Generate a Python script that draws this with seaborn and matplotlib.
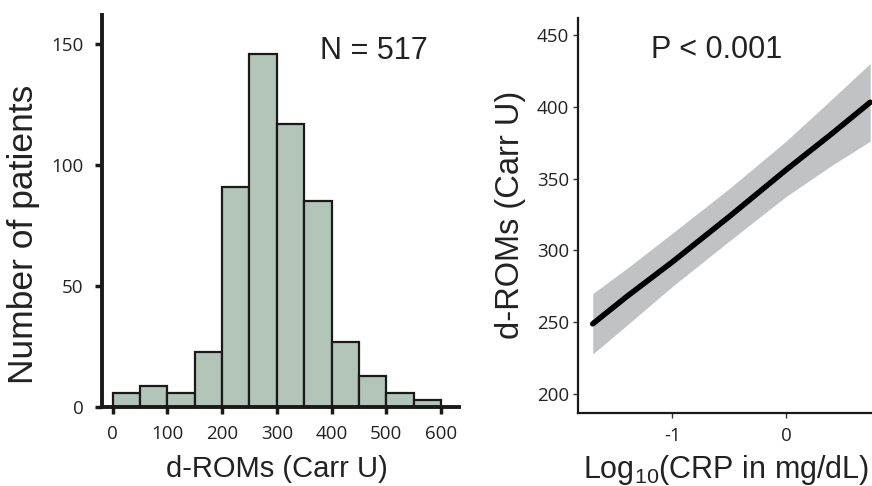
import matplotlib
matplotlib.use("Agg")
import matplotlib.pyplot as plt
import seaborn as sns
import numpy as np

# histogram of d-ROMs (bins of 50 Carr U)
bin_edges = [0, 50, 100, 150, 200, 250, 300, 350, 400, 450, 500, 550, 600]
counts = [6, 9, 6, 23, 91, 146, 117, 85, 27, 13, 6, 3]

# regression of d-ROMs on log10 CRP
crp_log = [-1.7, -1.4, -1.0, -0.5, 0.0, 0.4, 0.74]
droms_fit = [249, 268, 292, 323.5, 356, 381, 403]
droms_lo = [228, 248, 275, 306.5, 337.5, 359, 376]
droms_hi = [270, 287.5, 312, 343, 376, 405, 430]

sns.set_style("ticks")
plt.rcParams['font.family'] = ['Liberation Sans', 'DejaVu Sans']
plt.rcParams['mathtext.default'] = 'regular'
plt.rcParams['axes.unicode_minus'] = False

fig = plt.figure(figsize=(8.72, 4.86), dpi=100)
W, H = 872.0, 486.0
ax1 = fig.add_axes([101.7 / W, 1 - 407.3 / H, (459 - 101.7) / W, (407.3 - 15) / H])
ax2 = fig.add_axes([578.3 / W, 1 - 412.7 / H, (872 - 578.3) / W, (412.7 - 18) / H])
txt = '#222222'

# left panel
centers = [(a + b) / 2 for a, b in zip(bin_edges[:-1], bin_edges[1:])]
sns.histplot(x=centers, weights=counts, bins=bin_edges, ax=ax1,
             color="#b3c4b8", edgecolor="#1a1a1a", linewidth=1.6, alpha=1)
ax1.set_xlim(-20, 633)
ax1.set_ylim(0, 162)
ax1.set_xticks([0, 100, 200, 300, 400, 500, 600])
ax1.set_yticks([0, 50, 100, 150])
for s in ['top', 'right']:
    ax1.spines[s].set_visible(False)
for s in ['left', 'bottom']:
    ax1.spines[s].set_linewidth(2.8)
    ax1.spines[s].set_color("#1a1a1a")
ax1.tick_params(width=2.5, length=5, color="#1a1a1a", labelsize=13.5, pad=8)
for lab in ax1.get_xticklabels() + ax1.get_yticklabels():
    lab.set_family('Open Sans')
    lab.set_color(txt)
ax1.set_xlabel("d-ROMs (Carr U)", fontsize=21, color=txt)
ax1.xaxis.set_label_coords(0.49, -0.122)
ax1.set_ylabel("Number of patients", fontsize=25.5, color=txt)
ax1.yaxis.set_label_coords(-0.173, 0.44)
ax1.text(0.762, 0.908, "N = 517", transform=ax1.transAxes, fontsize=22,
         ha='center', va='center', color=txt)

# right panel
ax2.fill_between(crp_log, droms_lo, droms_hi, color="#c1c2c4", linewidth=0)
sns.lineplot(x=crp_log, y=droms_fit, ax=ax2, color="black", linewidth=4)
ax2.set_xlim(-1.827, 0.756)
ax2.set_ylim(187.2, 461.6)
ax2.set_xticks([-1, 0])
ax2.set_yticks([200, 250, 300, 350, 400, 450])
for s in ['top', 'right']:
    ax2.spines[s].set_visible(False)
for s in ['left', 'bottom']:
    ax2.spines[s].set_linewidth(1.6)
    ax2.spines[s].set_color("#1a1a1a")
ax2.tick_params(width=1, length=3.5, color="#333333", labelsize=13.5)
ax2.tick_params(axis='x', pad=7)
ax2.tick_params(axis='y', pad=3)
for lab in ax2.get_xticklabels() + ax2.get_yticklabels():
    lab.set_family('Open Sans')
    lab.set_color(txt)
ax2.set_xlabel("Log$_{10}$(CRP in mg/dL)", fontsize=22, color=txt)
ax2.xaxis.set_label_coords(0.503, -0.103)
ax2.set_ylabel("d-ROMs (Carr U)", fontsize=23.5, color=txt)
ax2.yaxis.set_label_coords(-0.179, 0.5)
ax2.text(0.471, 0.919, "P < 0.001", transform=ax2.transAxes, fontsize=22,
         ha='center', va='center', color=txt)

fig.savefig("out.png", dpi=100)
